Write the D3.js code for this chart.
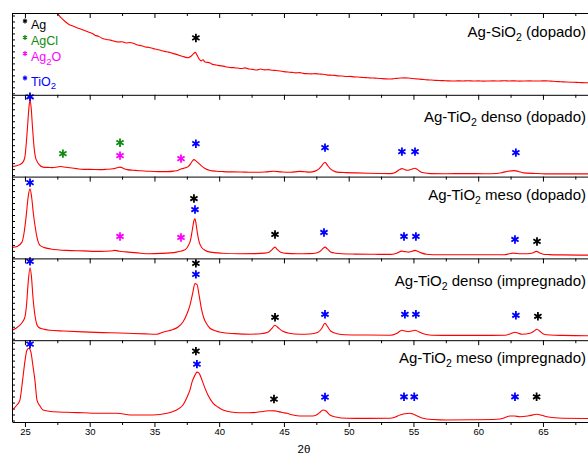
<!DOCTYPE html>
<html><head><meta charset="utf-8">
<script src="https://cdn.jsdelivr.net/npm/d3@7"></script>
<style>body{margin:0;background:#fff;overflow:hidden}svg{display:block}</style>
</head><body><script>
// ---------------- DATA ----------------
const xTicksMajor = [25, 30, 35, 40, 45, 50, 55, 60, 65];
const xTicksMinor = [27.5, 32.5, 37.5, 42.5, 47.5, 52.5, 57.5, 62.5, 67.5];
const xTitle = "2θ";

const sampleNames = [
  ["Ag-SiO", "2", " (dopado)"],
  ["Ag-TiO", "2", " denso (dopado)"],
  ["Ag-TiO", "2", " meso (dopado)"],
  ["Ag-TiO", "2", " denso (impregnado)"],
  ["Ag-TiO", "2", " meso (impregnado)"]
];

const agSiO2Dopado = [[24.0,1250],[25.0,1100],[26.0,980],[26.8,890],[27.2,845],[27.5,815],[27.8,770],[28.1,735],[28.4,705],[28.7,690],[29.0,672],[29.3,660],[29.6,645],[29.9,630],[30.2,615],[30.4,598],[30.7,585],[31.0,565],[31.3,555],[31.6,548],[31.9,538],[32.2,530],[32.5,532],[32.8,520],[33.1,524],[33.4,515],[33.7,500],[34.0,492],[34.3,480],[34.6,475],[34.9,463],[35.2,455],[35.5,445],[35.8,435],[36.1,428],[36.4,415],[36.7,405],[37.0,392],[37.3,380],[37.6,372],[37.8,385],[38.0,410],[38.15,425],[38.3,395],[38.45,360],[38.6,340],[38.75,352],[38.9,328],[39.1,325],[39.3,318],[39.5,305],[39.7,300],[39.9,295],[40.2,290],[40.5,282],[40.8,274],[41.1,272],[41.4,268],[41.7,264],[42.0,270],[42.3,258],[42.6,255],[42.9,248],[43.2,258],[43.5,250],[43.8,252],[44.1,246],[44.4,243],[44.7,238],[45.0,232],[45.3,228],[45.6,225],[45.9,220],[46.2,222],[46.5,215],[46.8,212],[47.1,210],[47.4,212],[47.7,208],[48.0,206],[48.3,200],[48.6,197],[48.9,195],[49.2,190],[49.5,188],[49.8,183],[50.1,185],[50.4,180],[50.7,178],[51.0,175],[51.3,172],[51.6,170],[51.9,168],[52.2,166],[52.5,163],[52.8,160],[53.1,158],[53.4,160],[53.7,165],[54.0,168],[54.3,170],[54.6,168],[54.9,163],[55.2,160],[55.5,157],[55.8,153],[56.1,150],[56.4,148],[56.7,145],[57.0,143],[57.3,142],[57.6,140],[58.0,138],[58.4,140],[58.8,139],[59.2,141],[59.6,138],[60.0,140],[60.4,137],[60.8,139],[61.2,140],[61.6,138],[62.0,141],[62.4,139],[62.8,140],[63.2,137],[63.6,139],[64.0,140],[64.4,138],[64.8,139],[65.2,140],[65.6,137],[66.0,134],[66.4,131],[66.8,128],[67.2,126],[67.6,125],[68.0,122],[68.5,120],[69.0,118],[70.0,115]];

const agTiO2DensoDopado = [[24.0,100],[24.6,120],[24.87,150],[25.0,200],[25.1,330],[25.2,500],[25.3,680],[25.39,770],[25.48,690],[25.58,500],[25.7,300],[25.8,200],[25.95,150],[26.1,120],[26.4,95],[26.8,92],[27.1,90],[27.5,97],[27.75,102],[28.0,96],[28.5,88],[29.0,80],[29.5,72],[30.0,72],[30.8,70],[31.3,73],[31.8,78],[32.1,88],[32.35,95],[32.6,82],[32.9,70],[33.5,62],[34.0,58],[34.6,53],[35.3,50],[36.0,50],[36.5,55],[36.8,62],[37.1,78],[37.4,88],[37.6,100],[37.8,130],[37.95,160],[38.05,170],[38.2,158],[38.4,135],[38.6,110],[38.9,82],[39.3,62],[39.8,54],[40.3,50],[41.0,47],[42.0,45],[42.9,43],[43.6,47],[44.2,53],[44.8,47],[45.5,43],[46.2,52],[46.6,48],[47.0,45],[47.4,55],[47.65,72],[47.9,105],[48.1,138],[48.2,140],[48.35,115],[48.55,82],[48.8,58],[49.1,45],[49.8,40],[50.6,37],[51.5,34],[52.5,31],[53.2,30],[53.6,42],[53.9,68],[54.1,80],[54.3,72],[54.5,64],[54.8,72],[55.1,83],[55.3,72],[55.5,52],[55.8,38],[56.3,30],[57.5,29],[59.0,30],[60.5,29],[61.4,31],[61.9,42],[62.3,54],[62.8,60],[63.1,52],[63.5,37],[64.2,32],[64.6,31],[65.3,27],[66.5,27],[68.4,27],[70.0,27]];

const agTiO2MesoDopado = [[24.0,110],[24.4,120],[24.77,163],[24.96,280],[25.1,430],[25.25,620],[25.39,697],[25.52,610],[25.65,450],[25.81,300],[25.95,200],[26.16,130],[26.5,108],[27.0,95],[28.2,80],[29.5,75],[30.8,70],[31.6,74],[31.95,80],[32.3,72],[32.8,65],[33.7,55],[34.6,47],[35.5,50],[36.2,55],[36.7,63],[37.1,75],[37.4,90],[37.6,125],[37.78,180],[37.93,290],[38.05,380],[38.13,397],[38.22,340],[38.32,250],[38.45,165],[38.65,110],[38.9,82],[39.3,63],[40.2,52],[41.6,47],[42.8,48],[43.5,53],[43.85,62],[44.1,90],[44.3,113],[44.5,88],[44.75,62],[45.2,50],[46.0,47],[47.0,48],[47.5,55],[47.8,72],[48.05,103],[48.17,113],[48.35,95],[48.6,65],[49.0,52],[49.5,46],[50.5,43],[52.0,41],[53.2,40],[53.7,52],[54.1,73],[54.35,68],[54.6,63],[54.9,72],[55.12,80],[55.35,70],[55.65,53],[56.0,42],[56.5,37],[58.0,36],[60.0,37],[62.0,37],[62.4,46],[62.68,53],[62.9,50],[63.3,46],[63.8,47],[64.2,55],[64.5,70],[64.75,55],[65.0,42],[65.5,38],[66.5,35],[68.4,33],[70.0,33]];

const agTiO2DensoImpregnado = [[24.0,100],[24.3,120],[24.61,150],[24.85,190],[25.0,233],[25.12,350],[25.25,580],[25.39,727],[25.5,640],[25.62,430],[25.77,250],[25.9,165],[26.05,130],[26.4,112],[26.93,100],[28.0,92],[29.48,83],[31.0,76],[32.3,72],[33.34,67],[34.3,63],[35.19,60],[35.66,80],[36.1,95],[36.43,107],[36.85,135],[37.2,183],[37.5,260],[37.74,350],[37.95,470],[38.13,567],[38.28,560],[38.45,450],[38.62,320],[38.82,220],[39.05,160],[39.29,120],[39.7,95],[40.1,80],[41.2,66],[42.4,60],[43.2,65],[43.76,80],[44.05,115],[44.31,150],[44.55,125],[44.92,90],[45.4,70],[46.24,60],[47.0,62],[47.63,80],[47.9,115],[48.17,170],[48.35,140],[48.63,90],[49.1,65],[49.71,55],[51.5,52],[53.19,50],[53.7,68],[54.11,100],[54.35,92],[54.58,85],[54.85,92],[55.12,100],[55.4,85],[55.66,70],[56.0,57],[56.43,50],[58.0,48],[60.0,48],[62.07,50],[62.5,65],[62.84,80],[63.1,70],[63.38,60],[64.0,70],[64.3,90],[64.54,110],[64.8,85],[65.08,60],[65.6,52],[66.5,48],[68.4,45],[70.0,45]];

const agTiO2MesoImpregnado = [[24.0,120],[24.38,170],[24.61,220],[24.82,420],[25.0,610],[25.15,720],[25.31,740],[25.46,700],[25.62,560],[25.77,420],[25.93,220],[26.16,160],[26.39,120],[27.0,105],[28.24,97],[29.5,92],[30.79,87],[32.1,87],[33.34,70],[34.88,70],[35.97,87],[36.58,113],[37.2,170],[37.59,270],[37.74,320],[37.9,400],[38.13,470],[38.28,500],[38.44,490],[38.67,420],[38.9,340],[39.13,270],[39.52,190],[39.9,150],[40.29,120],[40.9,100],[41.6,93],[42.3,92],[42.92,97],[43.5,108],[43.92,113],[44.3,112],[44.54,105],[44.9,95],[45.23,87],[45.7,70],[46.24,60],[47.24,60],[47.63,80],[47.85,105],[48.01,120],[48.25,110],[48.55,70],[49.0,50],[49.86,37],[51.5,36],[53.19,37],[53.6,50],[53.96,70],[54.35,82],[54.73,87],[54.96,80],[55.3,60],[55.73,37],[56.5,25],[57.59,20],[59.5,22],[61.45,27],[62.0,40],[62.45,60],[62.8,60],[63.22,53],[63.9,62],[64.54,77],[64.9,68],[65.31,53],[65.9,42],[66.54,37],[68.4,35],[70.0,35]];

const patterns = [agSiO2Dopado, agTiO2DensoDopado, agTiO2MesoDopado, agTiO2DensoImpregnado, agTiO2MesoImpregnado];

const phases = ["Ag", "AgCl", "Ag2O", "TiO2"];
const phaseLabels = [["Ag",""],["AgCl",""],["Ag","2","O"],["TiO","2",""]];

// reflection markers: [panel, 2theta, intensity level, phase]
const markers = [
  [0,38.2,570,"Ag"],
  [1,25.39,800,"TiO2"],[1,27.93,230,"AgCl"],[1,32.34,340,"AgCl"],[1,32.34,210,"Ag2O"],[1,37.05,180,"Ag2O"],[1,38.2,330,"TiO2"],[1,48.17,290,"TiO2"],[1,54.11,250,"TiO2"],[1,55.12,250,"TiO2"],[1,62.91,240,"TiO2"],
  [2,25.39,760,"TiO2"],[2,38.05,600,"Ag"],[2,38.13,490,"TiO2"],[2,32.34,220,"Ag2O"],[2,37.05,210,"Ag2O"],[2,44.31,240,"Ag"],[2,48.09,260,"TiO2"],[2,54.27,220,"TiO2"],[2,55.19,220,"TiO2"],[2,62.84,190,"TiO2"],[2,64.54,170,"Ag"],
  [3,25.39,790,"TiO2"],[3,38.2,770,"Ag"],[3,38.2,660,"TiO2"],[3,44.31,230,"Ag"],[3,48.17,260,"TiO2"],[3,54.34,260,"TiO2"],[3,55.19,260,"TiO2"],[3,62.91,250,"TiO2"],[3,64.61,240,"Ag"],
  [4,25.39,780,"TiO2"],[4,38.2,710,"Ag"],[4,38.28,580,"TiO2"],[4,44.23,230,"Ag"],[4,48.17,250,"TiO2"],[4,54.27,253,"TiO2"],[4,55.06,253,"TiO2"],[4,62.84,253,"TiO2"],[4,64.51,253,"Ag"]
];

// ---------------- LAYOUT / STYLE ----------------
const W = 588, H = 455;
const phaseColor = {"Ag":"#000000","AgCl":"#108a10","Ag2O":"#ff00ff","TiO2":"#0000ff"};
const FONT = "'Liberation Sans', Arial, Helvetica, sans-serif";
const plotLeft = 12, panelTop0 = 13, panelH = 81.8, nPanels = patterns.length;
const labelBaseline = [24, 27, 23.5, 28, 23];
const yMax = 820;

const svg = d3.select("body").append("svg")
  .attr("width", W).attr("height", H)
  .style("font-family", FONT);

const x = d3.scaleLinear().domain([24, 70]).range([plotLeft, plotLeft + 46 * 12.95]);

function asteriskPath(r) {
  const t = r * Math.sqrt(3) / 2, u = r / 2;
  return `M0,${-r}L0,${r}M${-t},${-u}L${t},${u}M${-t},${u}L${t},${-u}`;
}

const defs = svg.append("defs");

patterns.forEach((data, i) => {
  const top = panelTop0 + i * panelH, bottom = top + panelH;
  const y = d3.scaleLinear().domain([0, yMax]).range([bottom, top]);

  defs.append("clipPath").attr("id", "clip" + i)
    .append("rect").attr("x", plotLeft).attr("y", top).attr("width", W).attr("height", panelH);

  const ya = svg.append("g").attr("transform", `translate(${plotLeft},0)`)
    .call(d3.axisRight(y).tickValues(d3.range(15, yMax, 60)).tickSize(3).tickSizeOuter(0).tickFormat(""));
  ya.select(".domain").remove();
  ya.selectAll("line").attr("stroke", "#000");

  const line = d3.line().x(d => x(d[0])).y(d => y(d[1])).curve(d3.curveMonotoneX);
  svg.append("path").datum(data)
    .attr("clip-path", `url(#clip${i})`)
    .attr("fill", "none").attr("stroke", "#ff0000").attr("stroke-width", 1.1)
    .attr("d", line);

  const nm = sampleNames[i];
  const t = svg.append("text").attr("x", 586).attr("y", top + labelBaseline[i])
    .attr("text-anchor", "end").attr("font-size", 15).attr("fill", "#000");
  t.append("tspan").text(nm[0]);
  t.append("tspan").attr("font-size", 10.5).attr("dy", 4).text(nm[1]);
  t.append("tspan").attr("dy", -4).text(nm[2]);

  markers.filter(m => m[0] === i).forEach(m => {
    svg.append("path")
      .attr("transform", `translate(${x(m[1])},${y(m[2])})`)
      .attr("d", asteriskPath(4.2))
      .attr("fill", "none").attr("stroke", phaseColor[m[3]])
      .attr("stroke-width", 1.8).attr("stroke-linecap", "butt");
  });
});

for (let j = 0; j <= nPanels; j++) {
  const yb = panelTop0 + j * panelH;
  const gMin = svg.append("g").attr("transform", `translate(0,${yb})`)
    .call(d3.axisBottom(x).tickValues(xTicksMinor).tickSize(3).tickSizeOuter(0).tickFormat(""));
  gMin.select(".domain").remove();
  const g = svg.append("g").attr("transform", `translate(0,${yb})`)
    .call(d3.axisBottom(x).tickValues(xTicksMajor).tickSize(5).tickSizeOuter(0)
      .tickFormat(j === nPanels ? d3.format("d") : ""));
  g.selectAll("text").attr("y", 6.3).attr("font-size", 9.5).attr("font-family", FONT).attr("fill", "#000");
  svg.selectAll("g line, g path.domain").attr("stroke", "#000");
}
svg.append("line").attr("x1", plotLeft + 0.5).attr("x2", plotLeft + 0.5)
  .attr("y1", panelTop0).attr("y2", panelTop0 + nPanels * panelH).attr("stroke", "#000");

svg.append("text").attr("x", 304).attr("y", 453).attr("text-anchor", "middle")
  .attr("font-size", 11.5).text(xTitle);

const legendY = [21, 37.5, 53.5, 78];
phases.forEach((p, k) => {
  const cy = legendY[k];
  svg.append("path").attr("transform", `translate(25,${cy})`)
    .attr("d", asteriskPath(2.4)).attr("fill", "none")
    .attr("stroke", phaseColor[p]).attr("stroke-width", 1.2);
  const lab = phaseLabels[k];
  const t = svg.append("text").attr("x", 31).attr("y", cy + 7.5)
    .attr("font-size", 12.5).attr("fill", phaseColor[p]);
  t.append("tspan").text(lab[0]);
  if (lab[1]) t.append("tspan").attr("font-size", 9.5).attr("dy", 3.5).text(lab[1]);
  if (lab[2]) t.append("tspan").attr("dy", -3.5).text(lab[2]);
});
</script></body></html>
